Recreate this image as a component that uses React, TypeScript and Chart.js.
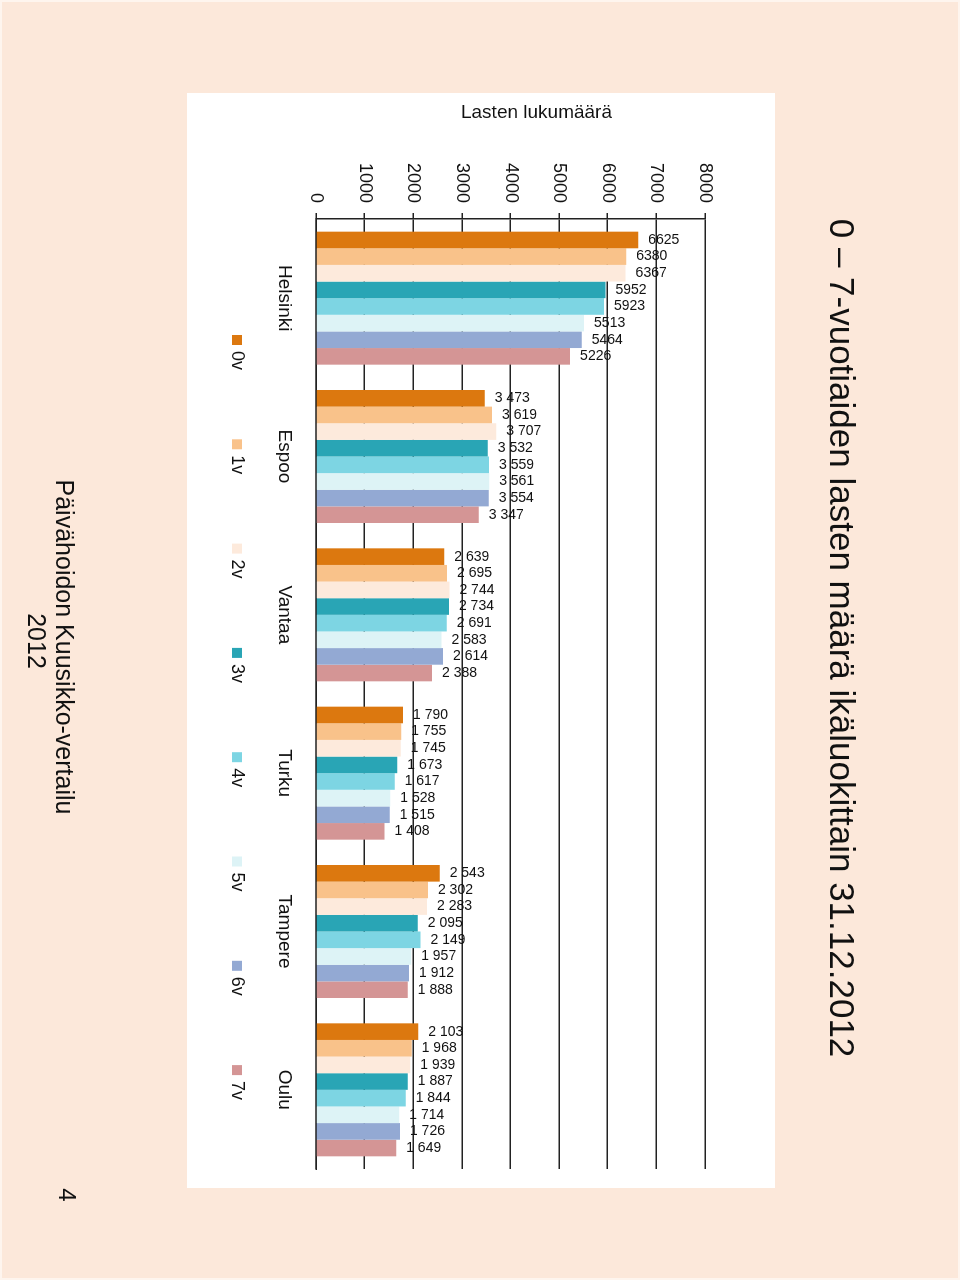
import React, { useEffect, useRef } from 'react';
import { Chart, registerables } from 'chart.js';

Chart.register(...registerables);

// ---- data ----
const cities = ['Helsinki', 'Espoo', 'Vantaa', 'Turku', 'Tampere', 'Oulu'];
const ageGroups = ['0v', '1v', '2v', '3v', '4v', '5v', '6v', '7v'];
const age0 = [6625, 3473, 2639, 1790, 2543, 2103];
const age1 = [6380, 3619, 2695, 1755, 2302, 1968];
const age2 = [6367, 3707, 2744, 1745, 2283, 1939];
const age3 = [5952, 3532, 2734, 1673, 2095, 1887];
const age4 = [5923, 3559, 2691, 1617, 2149, 1844];
const age5 = [5513, 3561, 2583, 1528, 1957, 1714];
const age6 = [5464, 3554, 2614, 1515, 1912, 1726];
const age7 = [5226, 3347, 2388, 1408, 1888, 1649];
const seriesValues = [age0, age1, age2, age3, age4, age5, age6, age7];
const valueTicks = [0, 1000, 2000, 3000, 4000, 5000, 6000, 7000, 8000];
const labelSeparators = ['', ' ', ' ', ' ', ' ', ' '];

const titleText = '0 – 7-vuotiaiden lasten määrä ikäluokittain 31.12.2012';
const axisTitle = 'Lasten lukumäärä';
const footerLine1 = 'Päivähoidon Kuusikko-vertailu';
const footerLine2 = '2012';
const pageNumber = '4';

// ---- styles ----
const seriesColors = ['#DC780F', '#F9C28A', '#FDEADC', '#29A5B5', '#7DD5E3', '#DDF3F6', '#93A9D3', '#D49595'];
const FONT = '"Liberation Sans", Arial, Helvetica, sans-serif';
const PEACH = '#FCE8DA';
const INK = '#111111';

function formatLabel(v: number, catIdx: number) {
  const s = String(v);
  const sep = labelSeparators[catIdx];
  if (!sep || s.length <= 3) return s;
  return s.slice(0, -3) + sep + s.slice(-3);
}

const pagePlugin = {
  id: 'pagePlugin',
  beforeDraw(chart: any) {
    const ctx = chart.ctx;
    ctx.save();
    ctx.fillStyle = '#FEF5EE';
    ctx.fillRect(0, 0, 1280, 960);
    ctx.fillStyle = PEACH;
    ctx.fillRect(2, 2, 1276, 956);
    ctx.fillStyle = '#FFFFFF';
    ctx.fillRect(93, 185, 1095, 588);
    ctx.restore();
  },
  afterDatasetsDraw(chart: any) {
    const ctx = chart.ctx;
    ctx.save();
    ctx.fillStyle = INK;
    ctx.font = `14px ${FONT}`;
    ctx.textAlign = 'left';
    ctx.textBaseline = 'middle';
    chart.data.datasets.forEach((ds: any, i: number) => {
      const meta = chart.getDatasetMeta(i);
      meta.data.forEach((bar: any, j: number) => {
        ctx.save();
        ctx.translate(bar.x, bar.y - 10);
        ctx.rotate(-Math.PI / 2);
        ctx.fillText(formatLabel(ds.data[j], j), 0, 0);
        ctx.restore();
      });
    });
    ctx.restore();
  },
  afterDraw(chart: any) {
    const ctx = chart.ctx;
    ctx.save();
    ctx.fillStyle = INK;

    // legend
    ctx.font = `18px ${FONT}`;
    ctx.textAlign = 'left';
    ctx.textBaseline = 'middle';
    chart.data.datasets.forEach((ds: any, i: number) => {
      const x = 335 + i * 104.3;
      ctx.fillStyle = ds.backgroundColor;
      ctx.fillRect(x, 718, 10, 10);
      ctx.fillStyle = INK;
      ctx.fillText(ds.label, x + 16, 723);
    });

    // value axis title
    ctx.save();
    ctx.font = `19px ${FONT}`;
    ctx.textAlign = 'center';
    ctx.textBaseline = 'alphabetic';
    ctx.translate(118, 423.5);
    ctx.rotate(-Math.PI / 2);
    ctx.fillText(axisTitle, 0, 0);
    ctx.restore();

    // page title
    ctx.font = `35px ${FONT}`;
    ctx.textAlign = 'center';
    ctx.textBaseline = 'middle';
    ctx.fillText(titleText, 638, 120);

    // footer
    ctx.font = `25px ${FONT}`;
    ctx.fillText(footerLine1, 647, 897);
    ctx.fillText(footerLine2, 641, 925);
    ctx.font = `24px ${FONT}`;
    ctx.fillText(pageNumber, 1195, 894);
    ctx.restore();
  },
};

export default function App() {
  const ref = useRef<HTMLCanvasElement | null>(null);

  useEffect(() => {
    if (!ref.current) return;
    const chart = new Chart(ref.current, {
      type: 'bar',
      data: {
        labels: cities,
        datasets: ageGroups.map((g, i) => ({
          label: g,
          data: seriesValues[i],
          backgroundColor: seriesColors[i],
          borderWidth: 0,
          categoryPercentage: 0.84,
          barPercentage: 1.0,
        })),
      },
      options: {
        animation: false,
        responsive: false,
        devicePixelRatio: 1,
        layout: { padding: { left: 93, right: 111, top: 255, bottom: 276 } },
        plugins: {
          legend: { display: false },
          tooltip: { enabled: false },
          title: { display: false },
        },
        scales: {
          x: {
            grid: { display: false },
            border: { display: true, color: '#222222', width: 1.5 },
            ticks: {
              color: INK,
              font: { family: FONT, size: 19 },
              padding: 12,
              maxRotation: 0,
              autoSkip: false,
            },
            afterFit: (s: any) => { s.height = 40; },
          },
          y: {
            min: 0,
            max: 8000,
            grid: { color: '#222222', lineWidth: 1.5, tickLength: 6, drawTicks: true },
            border: { display: true, color: '#222222', width: 1.5 },
            ticks: {
              color: INK,
              font: { family: FONT, size: 18 },
              padding: 10,
              stepSize: 1000,
              callback: (v: any) => String(v),
            },
            afterBuildTicks: (s: any) => { s.ticks = valueTicks.map((v) => ({ value: v })); },
            afterFit: (s: any) => { s.width = 126; },
          },
        },
      },
      plugins: [pagePlugin],
    } as any);
    return () => chart.destroy();
  }, []);

  return (
    <div style={{ position: 'absolute', left: 0, top: 0, width: 960, height: 1280, overflow: 'hidden' }}>
      <div
        style={{
          position: 'absolute',
          left: 0,
          top: 0,
          width: 1280,
          height: 960,
          transformOrigin: '0 0',
          transform: 'translate(960px, 0px) rotate(90deg)',
        }}
      >
        <canvas ref={ref} width={1280} height={960} style={{ display: 'block', width: 1280, height: 960 }} />
      </div>
    </div>
  );
}
